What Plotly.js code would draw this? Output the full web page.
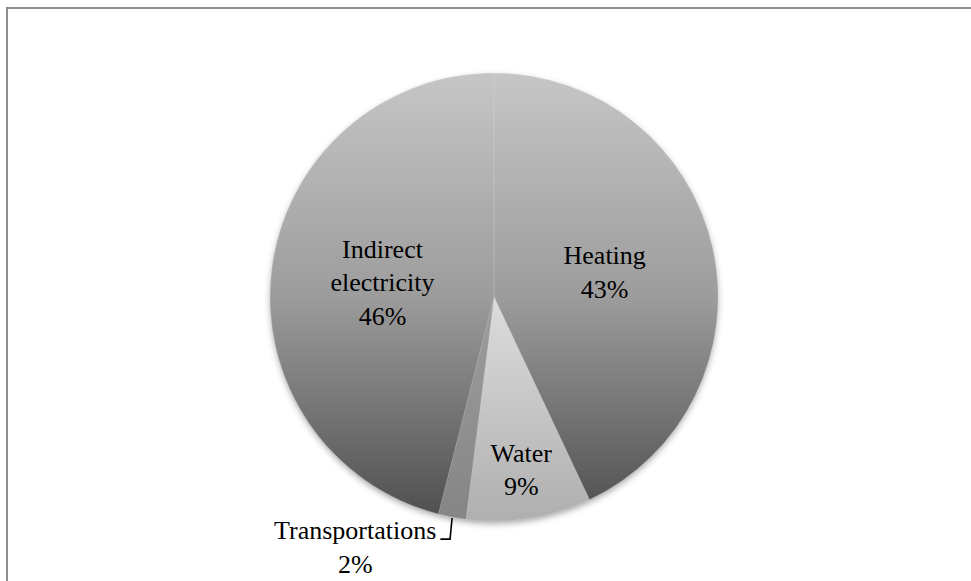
<!DOCTYPE html>
<html>
<head>
<meta charset="utf-8">
<script src="https://cdn.plot.ly/plotly-3.0.1.min.js"></script>
<style>
html,body{margin:0;padding:0;background:#fff;overflow:hidden;}
#chart{width:971px;height:581px;position:relative;}
#frame{position:absolute;left:6px;top:7px;width:990px;height:600px;border-left:2px solid #8d8d8d;border-top:2px solid #8d8d8d;pointer-events:none;box-sizing:border-box;}
</style>
</head>
<body>
<div id="chart"></div>
<div id="frame"></div>
<script>
// ---- data ----
const categories = ['Heating', 'Water', 'Transportations', 'Indirect electricity'];
const shares = [43, 9, 2, 46];

// ---- styling ----
const labelPositions = ['inside', 'inside', 'outside', 'inside'];
const gradientStops = [
  [['0', '#c6c6c6'], ['0.5', '#9c9c9c'], ['1', '#4e4e4e']],
  [['0', '#f2f2f2'], ['0.5', '#dddddd'], ['1', '#afafaf']],
  [['0', '#b0b0b0'], ['0.5', '#9e9e9e'], ['1', '#858585']],
  [['0', '#c6c6c6'], ['0.5', '#9c9c9c'], ['1', '#4e4e4e']]
];
const flatColors = ['#999999', '#d0d0d0', '#8a8a8a', '#999999'];

const displayLabels = categories.map(c => c.replace(' ', '<br>'));
const FONT = 'Liberation Serif, Times New Roman, serif';

const trace = {
  type: 'pie',
  labels: categories,
  values: shares,
  text: displayLabels,
  texttemplate: '%{text}<br>%{percent:.0%}',
  textposition: labelPositions,
  insidetextorientation: 'horizontal',
  sort: false,
  direction: 'clockwise',
  rotation: 0,
  marker: {colors: flatColors, line: {color: 'rgba(255,255,255,0.25)', width: 0.6}},
  textfont: {family: FONT, size: 26, color: '#000'},
  insidetextfont: {family: FONT, size: 26, color: '#000'},
  outsidetextfont: {family: FONT, size: 26, color: '#000'},
  hoverinfo: 'label+percent',
  domain: {x: [0.2781, 0.7395], y: [0.1033, 0.8744]}
};

const layout = {
  width: 971,
  height: 581,
  margin: {l: 0, r: 0, t: 0, b: 0},
  showlegend: false,
  paper_bgcolor: '#ffffff',
  plot_bgcolor: '#ffffff',
  font: {family: FONT, size: 26, color: '#000'}
};

Plotly.newPlot('chart', [trace], layout, {displayModeBar: false, staticPlot: true}).then(function (gd) {
  const NS = 'http://www.w3.org/2000/svg';
  const svg = gd.querySelector('svg.main-svg');
  let defs = svg.querySelector('defs');
  if (!defs) { defs = document.createElementNS(NS, 'defs'); svg.insertBefore(defs, svg.firstChild); }
  const paths = Array.from(gd.querySelectorAll('g.slice path.surface'));
  let minX = Infinity, minY = Infinity, maxX = -Infinity, maxY = -Infinity;
  paths.forEach(p => {
    const b = p.getBBox();
    minX = Math.min(minX, b.x); minY = Math.min(minY, b.y);
    maxX = Math.max(maxX, b.x + b.width); maxY = Math.max(maxY, b.y + b.height);
  });
  paths.forEach((p, i) => {
    const g = document.createElementNS(NS, 'linearGradient');
    g.setAttribute('id', 'sliceGrad' + i);
    g.setAttribute('gradientUnits', 'userSpaceOnUse');
    g.setAttribute('x1', 0); g.setAttribute('x2', 0);
    g.setAttribute('y1', minY); g.setAttribute('y2', maxY);
    gradientStops[i].forEach(s => {
      const st = document.createElementNS(NS, 'stop');
      st.setAttribute('offset', s[0]);
      st.setAttribute('stop-color', s[1]);
      g.appendChild(st);
    });
    defs.appendChild(g);
    p.style.fill = 'url(#sliceGrad' + i + ')';
  });
  // soft shadow under the pie
  const f = document.createElementNS(NS, 'filter');
  f.setAttribute('id', 'pieShadow');
  f.setAttribute('x', '-20%'); f.setAttribute('y', '-20%');
  f.setAttribute('width', '140%'); f.setAttribute('height', '150%');
  const ds = document.createElementNS(NS, 'feDropShadow');
  ds.setAttribute('dx', '0'); ds.setAttribute('dy', '3');
  ds.setAttribute('stdDeviation', '3.5');
  ds.setAttribute('flood-color', '#000'); ds.setAttribute('flood-opacity', '0.4');
  f.appendChild(ds);
  defs.appendChild(f);
  if (paths.length) {
    const firstSlice = paths[0].parentNode;
    const c = document.createElementNS(NS, 'ellipse');
    c.setAttribute('cx', (minX + maxX) / 2);
    c.setAttribute('cy', (minY + maxY) / 2);
    c.setAttribute('rx', (maxX - minX) / 2 - 1);
    c.setAttribute('ry', (maxY - minY) / 2 - 1);
    c.setAttribute('fill', '#888');
    c.setAttribute('filter', 'url(#pieShadow)');
    firstSlice.parentNode.insertBefore(c, firstSlice);
  }
  // leader line for outside labels, derived from rendered geometry
  const svgRect = svg.getBoundingClientRect();
  let pr = {l: Infinity, t: Infinity, r: -Infinity, b: -Infinity};
  paths.forEach(p => {
    const b = p.getBoundingClientRect();
    pr.l = Math.min(pr.l, b.left); pr.t = Math.min(pr.t, b.top);
    pr.r = Math.max(pr.r, b.right); pr.b = Math.max(pr.b, b.bottom);
  });
  const cx = (pr.l + pr.r) / 2 - svgRect.left, cy = (pr.t + pr.b) / 2 - svgRect.top;
  const R = (pr.r - pr.l) / 2;
  const total = shares.reduce((a, b) => a + b, 0);
  let cum = 0;
  const slices = Array.from(gd.querySelectorAll('g.slice'));
  shares.forEach((v, i) => {
    const mid = (cum + v / 2) / total * 2 * Math.PI;
    cum += v;
    if (labelPositions[i] !== 'outside') return;
    const txt = slices[i] && slices[i].querySelector('text.slicetext');
    if (!txt) return;
    const tb = txt.getBoundingClientRect();
    const ex = cx + R * Math.sin(mid), ey = cy - R * Math.cos(mid);
    const yl = tb.top - svgRect.top + tb.height * 0.37;
    const x0 = tb.right - svgRect.left + 4;
    const ln = document.createElementNS(NS, 'path');
    ln.setAttribute('d', 'M' + x0 + ',' + yl + 'L' + (ex - 2) + ',' + yl + 'L' + ex + ',' + (ey + 1));
    ln.setAttribute('fill', 'none');
    ln.setAttribute('stroke', '#000');
    ln.setAttribute('stroke-width', '1.6');
    svg.appendChild(ln);
  });
});
</script>
</body>
</html>
